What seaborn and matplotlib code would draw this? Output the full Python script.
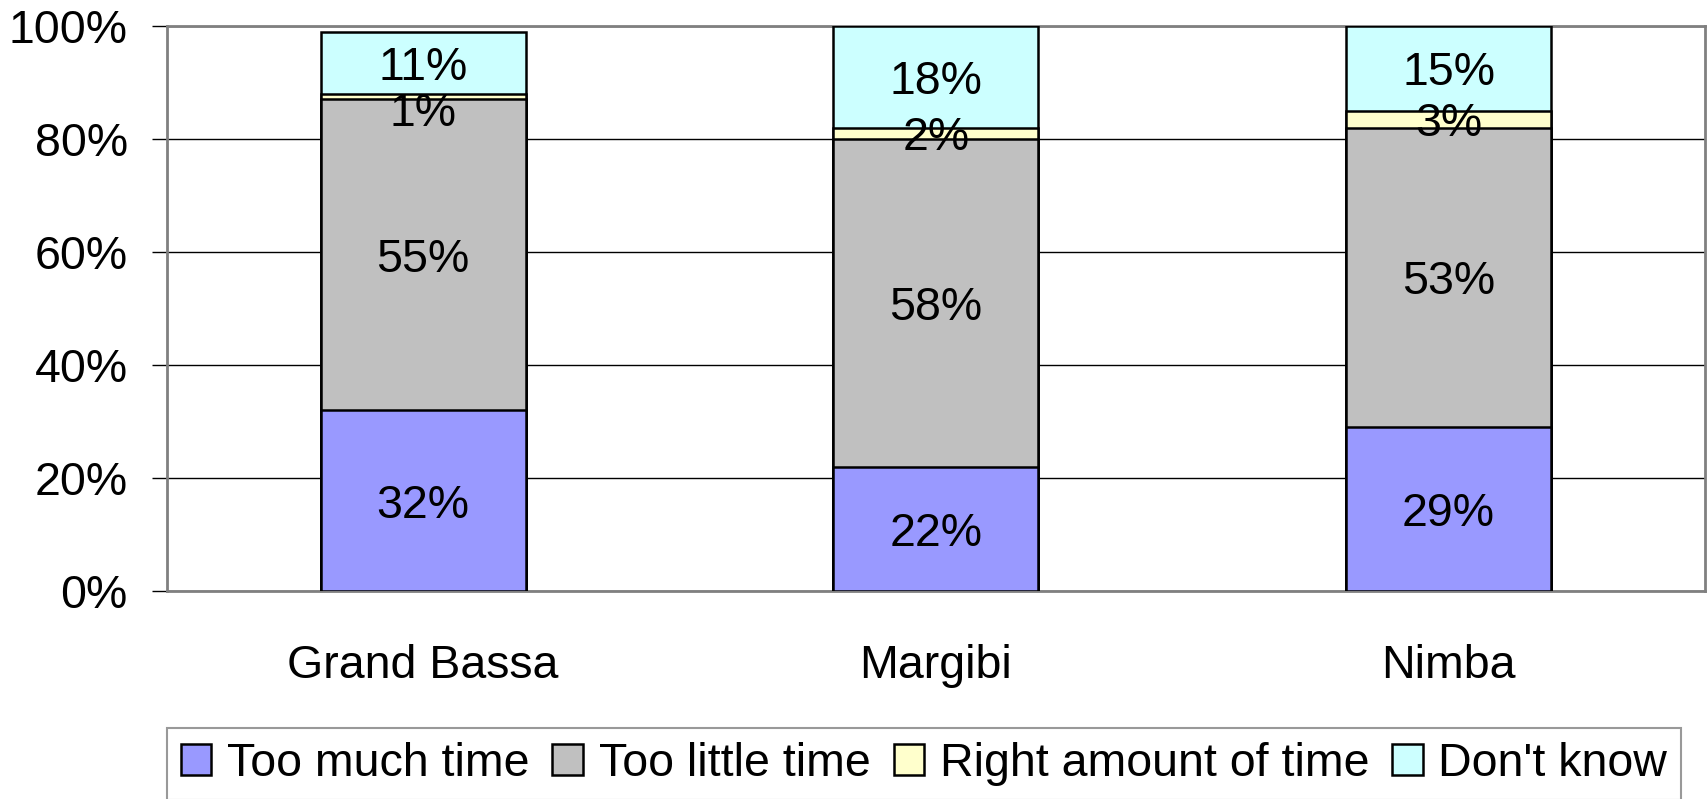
import numpy as np
import pandas as pd
import matplotlib
matplotlib.use("Agg")
import matplotlib.pyplot as plt
from matplotlib.patches import Patch
import seaborn as sns

categories = ["Grand Bassa", "Margibi", "Nimba"]
series_names = ["Too much time", "Too little time", "Right amount of time", "Don't know"]
too_much = [32, 22, 29]
too_little = [55, 58, 53]
right_amount = [1, 2, 3]
dont_know = [11, 18, 15]
yticks = [0, 20, 40, 60, 80, 100]
ytick_labels = ["0%", "20%", "40%", "60%", "80%", "100%"]
colors = ["#9999FF", "#C0C0C0", "#FFFFCC", "#CCFFFF"]

sns.set_style("white")
plt.rcParams["font.family"] = ["Liberation Sans", "DejaVu Sans"]
plt.rcParams["text.color"] = "black"
plt.rcParams["xtick.labelcolor"] = "black"
plt.rcParams["ytick.labelcolor"] = "black"

FS = 33.5
W, H = 1707, 799
fig = plt.figure(figsize=(W / 100, H / 100), dpi=100)
ax = fig.add_axes([166.7 / W, 1 - 591 / H, (1705 - 166.7) / W, (591 - 26) / H])

values = [too_much, too_little, right_amount, dont_know]
cum = np.cumsum(np.array(values, dtype=float), axis=0)
df = pd.DataFrame({"category": categories})
for i, name in enumerate(series_names):
    df[name] = cum[i]

# draw from top cumulative down so lower segments overlay
for i in reversed(range(len(series_names))):
    sns.barplot(data=df, x="category", y=series_names[i], order=categories,
                color=colors[i], saturation=1, width=0.4,
                edgecolor="black", linewidth=1.8, ax=ax, zorder=3)

# segment labels
for i in range(len(series_names)):
    for j in range(len(categories)):
        v = values[i][j]
        bottom = cum[i][j] - v
        dy = -9 if v < 1.5 else 0   # tiny segment: label nudged down as in the source
        ax.annotate(f"{v}%", (j, bottom + v / 2), xytext=(0, dy),
                    textcoords="offset points", ha="center", va="center_baseline",
                    fontsize=FS, color="black", zorder=5)

ax.set_ylim(0, 100)
ax.set_xlim(-0.5, len(categories) - 0.5)
ax.set_yticks(yticks)
ax.set_yticklabels(ytick_labels)
ax.set_xticks(range(len(categories)))
ax.set_xticklabels(categories)
ax.set_xticks(np.arange(-0.5, len(categories), 1.0), minor=True)
ax.tick_params(axis="x", which="major", length=0, pad=38, labelsize=FS, labelcolor="black")
ax.tick_params(axis="x", which="minor", length=11, width=1, color="#808080", direction="out")
ax.tick_params(axis="y", which="major", length=11, width=1, color="black",
               direction="out", pad=17, labelsize=FS, left=True, labelcolor="black")
ax.set_xlabel("")
ax.set_ylabel("")
ax.yaxis.grid(True, color="black", linewidth=1)
ax.set_axisbelow(True)
for s in ax.spines.values():
    s.set_visible(True)
    s.set_color("#808080")
    s.set_linewidth(2)

handles = [Patch(facecolor=c, edgecolor="black", linewidth=1.8) for c in colors]
leg = fig.legend(handles, series_names, loc="upper left",
                 bbox_to_anchor=(166.7 / W, 1 - 728 / H), ncol=4,
                 frameon=True, fancybox=False, fontsize=FS,
                 handlelength=0.65, handleheight=0.65, handletextpad=0.34,
                 columnspacing=0.5, borderpad=0.3, borderaxespad=0)
leg.get_frame().set_edgecolor("#808080")
leg.get_frame().set_linewidth(1.5)

fig.savefig("out.png", dpi=100)
